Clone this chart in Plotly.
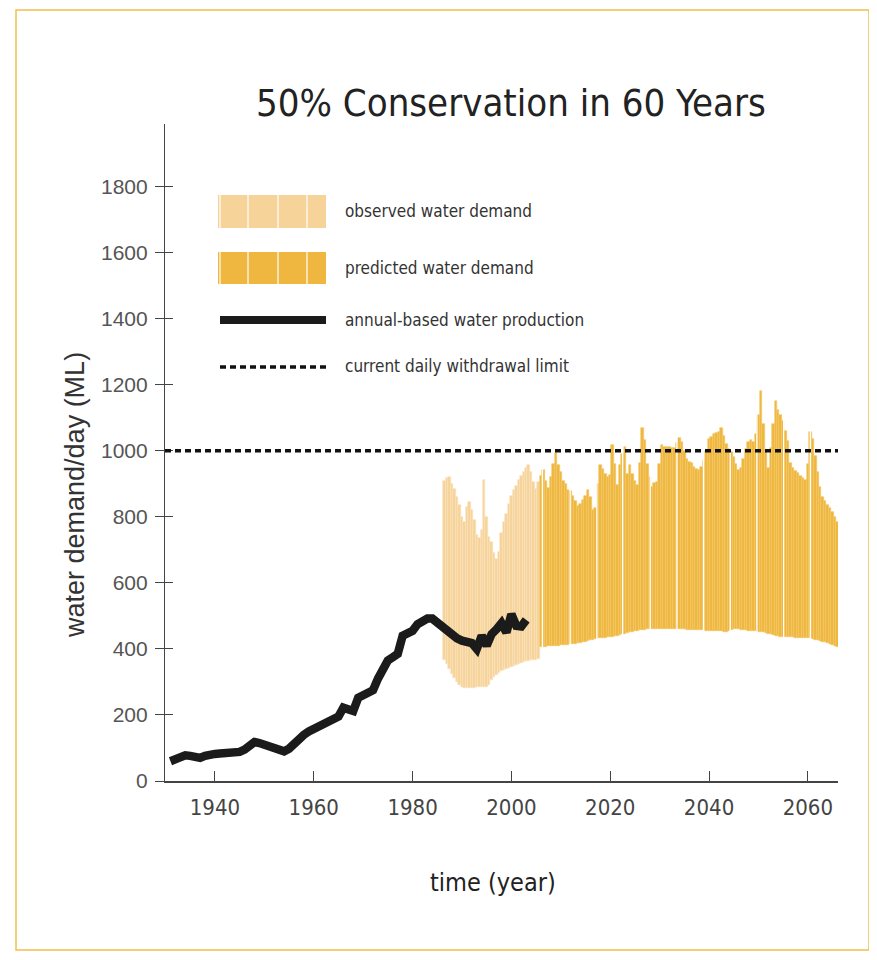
import plotly.graph_objects as go

# ---------------- data ----------------
# observed water demand (half-year bars, floating: base -> top), ML/day
obs_start = 1986.5
obs_top = [910, 918, 920, 900, 885, 860, 835, 800, 786,
           830, 846, 820, 790, 745, 735, 760, 912, 800, 740,
           725, 690, 672, 695, 750, 785, 810, 840, 862, 880,
           895, 912, 925, 937, 948, 958, 935, 905, 885, 907]
obs_base = [365, 355, 340, 325, 312, 300, 290, 285, 283,
            282, 282, 283, 283, 284, 284, 285, 285, 286, 290,
            305, 315, 322, 328, 333, 337, 340, 342, 345, 348,
            352, 355, 358, 360, 362, 364, 365, 366, 367, 370]

# predicted water demand (half-year bars from 2006.0)
pred_start = 2006.0
pred_top = [925, 942, 910, 887, 920, 960, 993, 957, 935,
            910, 900, 882, 878, 862, 848, 832, 840, 852, 864,
            882, 860, 822, 826, 900, 957, 945, 930, 920, 927,
            1018, 960, 897, 957, 990, 1013, 930, 957, 930, 910,
            897, 962, 1069, 1033, 960, 920, 892, 902, 907, 960,
            1018, 1013, 1013, 1013, 1010, 1008, 1025, 1038, 1028, 1000,
            975, 965, 962, 950, 945, 942, 952, 970, 1000, 1035,
            1043, 1050, 1055, 1058, 1069, 1045, 1020, 1005, 998, 980,
            960, 942, 947, 975, 1005, 1028, 1033, 1028, 1050, 1110,
            1180, 1080, 1000, 947, 1010, 1080, 1150, 1124, 1110, 1090,
            1060, 1030, 962, 948, 940, 932, 925, 918, 912, 960,
            1058, 1035, 985, 935, 892, 860, 848, 835, 826, 815, 800, 786]
pred_base = [405, 406, 407, 408, 408, 409, 410, 410, 411,
             412, 412, 413, 414, 415, 416, 417, 418, 420, 422,
             424, 426, 428, 430, 432, 433, 434, 434, 435, 436,
             437, 438, 440, 442, 444, 446, 448, 450, 452, 454,
             455, 456, 457, 458, 459, 460, 460, 461, 461, 461,
             461, 461, 461, 461, 460, 460, 460, 459, 459, 459,
             458, 458, 458, 458, 457, 457, 456, 456, 455, 455,
             455, 454, 454, 453, 453, 452, 452, 455, 458, 461,
             460, 459, 458, 457, 456, 455, 454, 453, 453, 452,
             451, 450, 448, 446, 444, 442, 440, 438, 437, 436,
             436, 435, 435, 435, 434, 434, 434, 433, 433, 433,
             432, 430, 428, 426, 424, 422, 420, 418, 415, 412, 409, 406]

# annual-based water production
prod_years = list(range(1931, 2004))
prod_values = [60, 65, 72, 78, 76, 72, 70, 76, 82,
               82, 83, 84, 84, 84, 88, 95, 105, 118, 115,
               110, 108, 102, 96, 90, 98, 115, 128, 140, 150,
               158, 163, 170, 177, 185, 195, 222, 218, 212, 252,
               262, 268, 275, 310, 340, 365, 375, 385, 440, 445,
               455, 475, 485, 492, 492, 480, 465, 453, 440, 432,
               425, 422, 418, 400, 440, 410, 445, 460, 478, 450,
               505, 470, 468, 488]

withdrawal_limit = 1000
panel_breaks = [2006.3, 2011.9, 2017.3, 2022.5, 2028.1, 2033.5,
                2038.9, 2044.3, 2049.7, 2055.1, 2060.5]

y_ticks = [0, 200, 400, 600, 800, 1000, 1200, 1400, 1600, 1800]
x_ticks = [1940, 1960, 1980, 2000, 2020, 2040, 2060]

title_text = "50% Conservation in 60 Years"
legend_labels = ["observed water demand", "predicted water demand",
                 "annual-based water production", "current daily withdrawal limit"]

# ---------------- layout helpers ----------------
OFF = 8  # page body margin
W, H = 877 - OFF, 960 - OFF
L, R, T, B = 165, 838, 124, 781  # plot area in page pixels
NARROW = "Liberation Sans Narrow, Arial Narrow, DejaVu Sans Condensed, sans-serif"
SANS = "Liberation Sans, Arial, sans-serif"


def px_x(p):
    return (p - L) / (R - L)


def px_y(p):
    return (B - p) / (B - T)


obs_years = [obs_start + 0.5 * i for i in range(len(obs_top))]
pred_years = [pred_start + 0.5 * i for i in range(len(pred_top))]

fig = go.Figure()
fig.add_trace(go.Bar(
    x=obs_years, y=[t - b for t, b in zip(obs_top, obs_base)], base=obs_base,
    width=0.5, marker=dict(color="#F6D399", line=dict(color="#FAE3BC", width=0.6)),
    showlegend=False, hoverinfo="skip"))
fig.add_trace(go.Bar(
    x=pred_years, y=[t - b for t, b in zip(pred_top, pred_base)], base=pred_base,
    width=0.5, marker=dict(color="#EFB73F", line=dict(color="#F4C764", width=0.6)),
    showlegend=False, hoverinfo="skip"))
fig.add_trace(go.Scatter(
    x=prod_years, y=prod_values, mode="lines",
    line=dict(color="#1b1b1b", width=8.5), showlegend=False, hoverinfo="skip"))
fig.add_trace(go.Scatter(x=[None], y=[None], yaxis="y2", showlegend=False, hoverinfo="skip"))

# white separators between bar panels
for yb in panel_breaks:
    fig.add_shape(type="line", xref="x", yref="paper", x0=yb, x1=yb, y0=px_y(650), y1=px_y(380),
                  line=dict(color="white", width=1.3), layer="above")

# withdrawal limit
fig.add_shape(type="line", xref="paper", yref="y", x0=0, x1=1,
              y0=withdrawal_limit, y1=withdrawal_limit,
              line=dict(color="#111111", width=3.5, dash="6px,4px"), layer="above")

# frame
fig.add_shape(type="rect", xref="paper", yref="paper",
              x0=px_x(16), x1=px_x(869), y0=px_y(950), y1=px_y(10),
              line=dict(color="#F1C04F", width=1.5), layer="below")

# legend
sw_x0, sw_x1 = px_x(218), px_x(326)
fig.add_shape(type="rect", xref="paper", yref="paper", x0=sw_x0, x1=sw_x1,
              y0=px_y(228), y1=px_y(195), fillcolor="#F6D399", line=dict(width=0))
fig.add_shape(type="rect", xref="paper", yref="paper", x0=sw_x0, x1=sw_x1,
              y0=px_y(284), y1=px_y(252), fillcolor="#EFB73F", line=dict(width=0))
for sx in [220, 248, 278, 307]:
    for (ya, yb2) in [(228, 195), (284, 252)]:
        fig.add_shape(type="line", xref="paper", yref="paper", x0=px_x(sx), x1=px_x(sx),
                      y0=px_y(ya), y1=px_y(yb2), line=dict(color="white", width=1.2))
fig.add_shape(type="line", xref="paper", yref="paper", x0=px_x(220), x1=px_x(326),
              y0=px_y(320), y1=px_y(320), line=dict(color="#1b1b1b", width=8))
fig.add_shape(type="line", xref="paper", yref="paper", x0=px_x(220), x1=px_x(326),
              y0=px_y(367), y1=px_y(367), line=dict(color="#111111", width=3.5, dash="6px,4px"))
for lab, yy in zip(legend_labels, [211, 268, 320, 366]):
    fig.add_annotation(text=lab, xref="paper", yref="paper", x=px_x(343), y=px_y(yy),
                       xanchor="left", yanchor="middle", showarrow=False,
                       font=dict(family=NARROW, size=17, color="#333333"))

# titles
fig.add_annotation(text=title_text, xref="paper", yref="paper", x=px_x(511), y=px_y(103),
                   xanchor="center", yanchor="middle", showarrow=False,
                   font=dict(family=NARROW, size=38, color="#222222"))
fig.add_annotation(text="water demand/day (ML)", xref="paper", yref="paper",
                   x=px_x(75), y=px_y(495), textangle=-90, xanchor="center", yanchor="middle",
                   showarrow=False, font=dict(family=SANS, size=27, color="#333333"))
fig.add_annotation(text="time (year)", xref="paper", yref="paper", x=px_x(493), y=px_y(882),
                   xanchor="center", yanchor="middle", showarrow=False,
                   font=dict(family=NARROW, size=25, color="#222222"))

fig.update_layout(
    width=W, height=H,
    margin=dict(l=L - OFF, r=W - (R - OFF), t=T - OFF, b=H - (B - OFF)),
    paper_bgcolor="white", plot_bgcolor="white",
    barmode="overlay", bargap=0,
    xaxis=dict(range=[1929.9, 2066.1], tickvals=x_ticks, ticks="inside", ticklen=10,
               tickcolor="#444444", showline=True, linecolor="#444444", linewidth=1.5,
               showgrid=False, zeroline=False, ticklabelstandoff=6,
               tickfont=dict(family=NARROW, size=22, color="#444444")),
    yaxis=dict(range=[0, 1990], tickvals=y_ticks, ticks="outside", ticklen=9,
               tickcolor="#444444", showline=True, linecolor="#444444", linewidth=1.2,
               showgrid=False, zeroline=False, ticklabelstandoff=3,
               tickfont=dict(family=SANS, size=21, color="#555555")),
    yaxis2=dict(range=[0, 1990], overlaying="y", side="left", tickvals=y_ticks,
                ticks="inside", ticklen=8, tickcolor="#444444", showticklabels=False,
                showline=False, showgrid=False, zeroline=False),
)

fig.write_html("out.html")
